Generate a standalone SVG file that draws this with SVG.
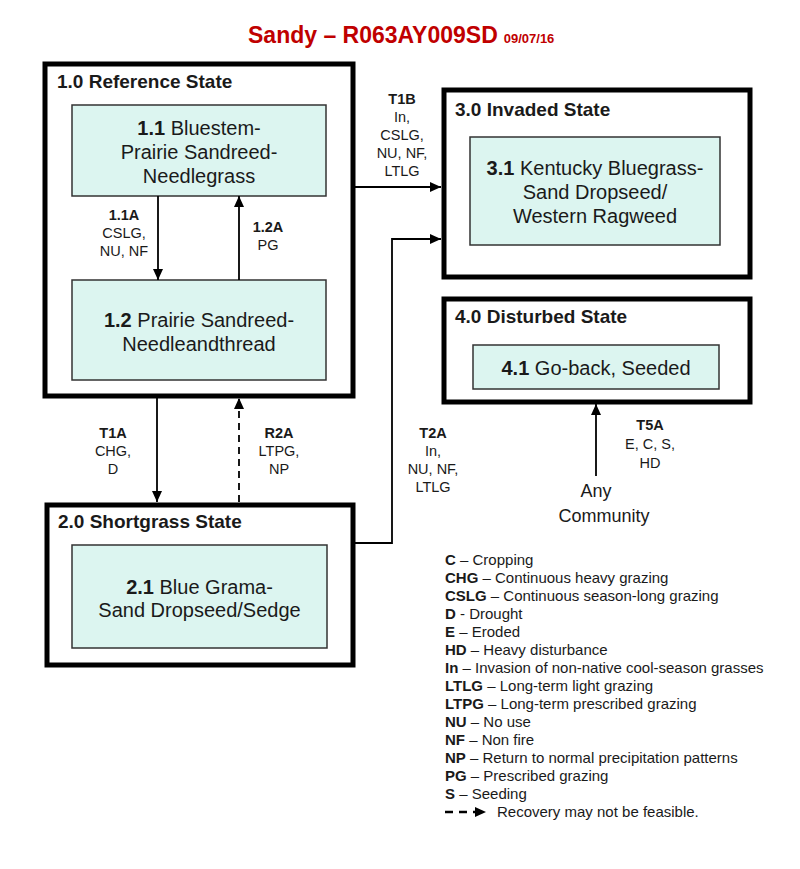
<svg xmlns="http://www.w3.org/2000/svg" width="800" height="869" viewBox="0 0 800 869">
<defs>
<style>
text{font-family:"Liberation Sans",Arial,sans-serif;fill:#1a1a1a}
.state{fill:#fff;stroke:#000;stroke-width:5}
.comm{fill:#dcf5f0;stroke:#333;stroke-width:1.5}
.st{font-size:19px;font-weight:bold}
.nt{font-size:20px;text-anchor:middle}
.lb{font-size:14.5px;text-anchor:middle}
.lg{font-size:15px}
.b{font-weight:bold}
.con{fill:none;stroke:#000;stroke-width:1.8}
</style>
<marker id="ah" markerUnits="userSpaceOnUse" markerWidth="12" markerHeight="10" refX="11" refY="5" orient="auto">
<path d="M0,0 L11,5 L0,10 Z" fill="#000"/>
</marker>
</defs>
<rect width="800" height="869" fill="#fff"/>
<text x="248" y="43" style="font-size:23px;font-weight:bold;fill:#c00000">Sandy – R063AY009SD<tspan style="font-size:13px" dx="6">09/07/16</tspan></text>

<g id="state1">
<rect class="state" x="45" y="64" width="308" height="332"/>
<text class="st" x="57" y="88">1.0 Reference State</text>
</g>
<g id="c11">
<rect class="comm" x="72" y="105" width="254" height="91"/>
<text class="nt" x="199" y="135"><tspan class="b">1.1</tspan> Bluestem-</text>
<text class="nt" x="199" y="159">Prairie Sandreed-</text>
<text class="nt" x="199" y="183">Needlegrass</text>
</g>
<g id="c12">
<rect class="comm" x="72" y="280" width="254" height="100"/>
<text class="nt" x="199" y="327"><tspan class="b">1.2</tspan> Prairie Sandreed-</text>
<text class="nt" x="199" y="351">Needleandthread</text>
</g>
<g id="state2">
<rect class="state" x="47" y="505" width="306" height="160"/>
<text class="st" x="58" y="528">2.0 Shortgrass State</text>
</g>
<g id="c21">
<rect class="comm" x="72" y="545" width="255" height="103"/>
<text class="nt" x="199.5" y="594"><tspan class="b">2.1</tspan> Blue Grama-</text>
<text class="nt" x="199.5" y="617">Sand Dropseed/Sedge</text>
</g>
<g id="state3">
<rect class="state" x="444" y="90" width="306" height="187"/>
<text class="st" x="455" y="116">3.0 Invaded State</text>
</g>
<g id="c31">
<rect class="comm" x="470" y="137" width="250" height="108"/>
<text class="nt" x="595" y="175"><tspan class="b">3.1</tspan> Kentucky Bluegrass-</text>
<text class="nt" x="595" y="199">Sand Dropseed/</text>
<text class="nt" x="595" y="223">Western Ragweed</text>
</g>
<g id="state4">
<rect class="state" x="444" y="299" width="306" height="103"/>
<text class="st" x="455" y="323">4.0 Disturbed State</text>
</g>
<g id="c41">
<rect class="comm" x="473" y="345" width="246" height="44"/>
<text class="nt" x="596" y="375"><tspan class="b">4.1</tspan> Go-back, Seeded</text>
</g>
<g id="any">
<text class="nt" x="596" y="497" style="font-size:18px">Any</text>
<text class="nt" x="604" y="522" style="font-size:18px">Community</text>
</g>

<g id="connectors">
<line class="con" x1="158" y1="196" x2="158" y2="280" marker-end="url(#ah)"/>
<line class="con" x1="239" y1="280" x2="239" y2="196" marker-end="url(#ah)"/>
<line class="con" x1="157" y1="398" x2="157" y2="502" marker-end="url(#ah)"/>
<line class="con" x1="239" y1="502" x2="239" y2="398" stroke-dasharray="7 5" marker-end="url(#ah)"/>
<line class="con" x1="355" y1="187" x2="441" y2="187" marker-end="url(#ah)"/>
<polyline class="con" points="355,543 392,543 392,239 441,239" marker-end="url(#ah)"/>
<line class="con" x1="596" y1="476" x2="596" y2="404" marker-end="url(#ah)"/>
</g>

<g id="labels">
<text class="lb b" x="124" y="220">1.1A</text>
<text class="lb" x="124" y="238">CSLG,</text>
<text class="lb" x="124" y="256">NU, NF</text>
<text class="lb b" x="268" y="232">1.2A</text>
<text class="lb" x="268" y="250">PG</text>
<text class="lb b" x="113" y="438">T1A</text>
<text class="lb" x="113" y="456">CHG,</text>
<text class="lb" x="113" y="474">D</text>
<text class="lb b" x="279" y="438">R2A</text>
<text class="lb" x="279" y="456">LTPG,</text>
<text class="lb" x="279" y="474">NP</text>
<text class="lb b" x="433" y="438">T2A</text>
<text class="lb" x="433" y="456">In,</text>
<text class="lb" x="433" y="474">NU, NF,</text>
<text class="lb" x="433" y="492">LTLG</text>
<text class="lb b" x="402" y="104">T1B</text>
<text class="lb" x="402" y="122">In,</text>
<text class="lb" x="402" y="140">CSLG,</text>
<text class="lb" x="402" y="158">NU, NF,</text>
<text class="lb" x="402" y="176">LTLG</text>
<text class="lb b" x="650" y="430">T5A</text>
<text class="lb" x="650" y="449">E, C, S,</text>
<text class="lb" x="650" y="468">HD</text>
</g>

<g id="legend">
<text class="lg" x="445" y="565"><tspan class="b">C</tspan> – Cropping</text>
<text class="lg" x="445" y="583"><tspan class="b">CHG</tspan> – Continuous heavy grazing</text>
<text class="lg" x="445" y="601"><tspan class="b">CSLG</tspan> – Continuous season-long grazing</text>
<text class="lg" x="445" y="619"><tspan class="b">D</tspan> - Drought</text>
<text class="lg" x="445" y="637"><tspan class="b">E</tspan> – Eroded</text>
<text class="lg" x="445" y="655"><tspan class="b">HD</tspan> – Heavy disturbance</text>
<text class="lg" x="445" y="673"><tspan class="b">In</tspan> – Invasion of non-native cool-season grasses</text>
<text class="lg" x="445" y="691"><tspan class="b">LTLG</tspan> – Long-term light grazing</text>
<text class="lg" x="445" y="709"><tspan class="b">LTPG</tspan> – Long-term prescribed grazing</text>
<text class="lg" x="445" y="727"><tspan class="b">NU</tspan> – No use</text>
<text class="lg" x="445" y="745"><tspan class="b">NF</tspan> – Non fire</text>
<text class="lg" x="445" y="763"><tspan class="b">NP</tspan> – Return to normal precipitation patterns</text>
<text class="lg" x="445" y="781"><tspan class="b">PG</tspan> – Prescribed grazing</text>
<text class="lg" x="445" y="799"><tspan class="b">S</tspan> – Seeding</text>
<line x1="445" y1="812" x2="486" y2="812" stroke="#000" stroke-width="2.5" stroke-dasharray="8 6" marker-end="url(#ah)"/>
<text class="lg" x="497" y="817">Recovery may not be feasible.</text>
</g>
</svg>
